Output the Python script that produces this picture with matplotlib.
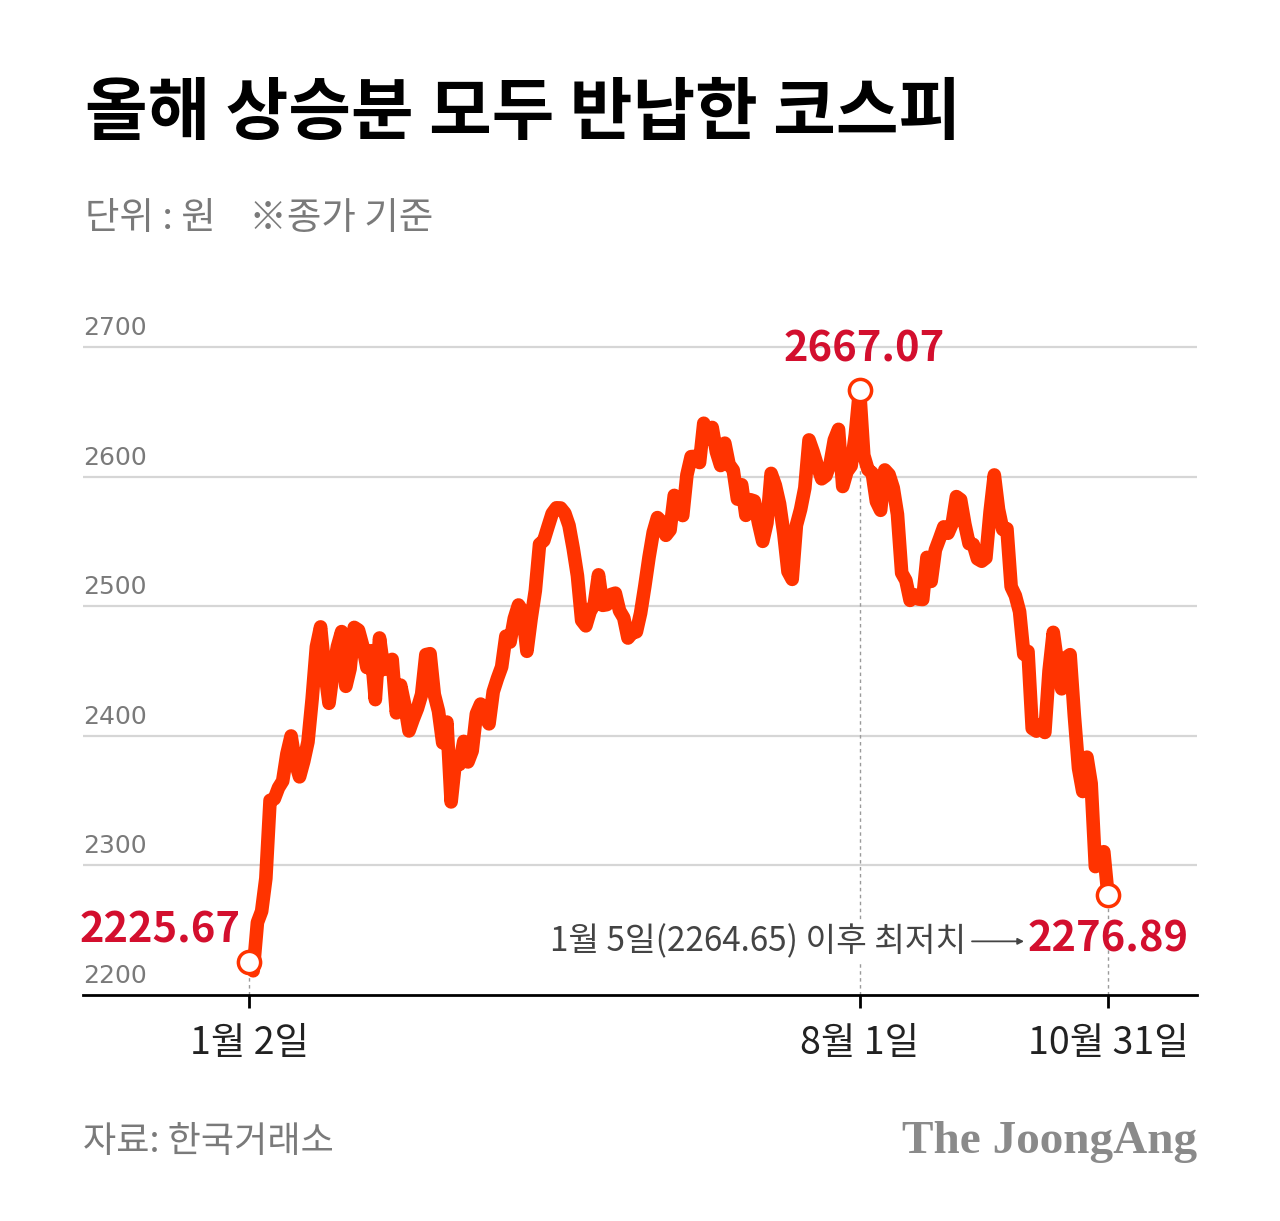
import numpy as np
import matplotlib
matplotlib.use("Agg")
import matplotlib.pyplot as plt

plt.rcParams['font.family'] = ['Noto Sans CJK KR', 'DejaVu Sans']

# KOSPI daily close, 2023-01-02 ~ 2023-10-31
jan = [2225.67, 2218.68, 2255.98, 2264.65, 2289.97, 2350.19, 2351.31, 2359.88, 2365.10, 2386.09,
       2399.86, 2379.39, 2368.32, 2380.34, 2395.26, 2428.57, 2468.65, 2484.02, 2450.47, 2425.08]
feb = [2449.80, 2468.88, 2480.40, 2438.19, 2451.71, 2483.64, 2481.52, 2469.53, 2452.70, 2465.64,
       2427.90, 2475.48, 2451.21, 2455.12, 2458.96, 2417.68, 2439.09, 2423.61, 2403.73, 2412.85]
mar = [2421.08, 2432.07, 2462.62, 2463.35, 2431.91, 2419.09, 2394.59, 2410.60, 2348.97, 2379.72,
       2377.91, 2395.69, 2379.83, 2388.35, 2416.96, 2424.48, 2414.96, 2409.22, 2434.08, 2444.25,
       2453.16, 2476.86]
apr = [2472.34, 2490.48, 2500.94, 2495.85, 2465.20, 2490.41, 2512.08, 2547.86, 2550.64, 2561.22,
       2571.49, 2575.91, 2575.78, 2571.80, 2562.29, 2544.40, 2523.50, 2489.02, 2484.83, 2495.81]
may = [2501.53, 2524.20, 2500.65, 2501.22, 2509.05, 2510.06, 2496.51, 2491.00, 2475.42, 2479.35,
       2480.24, 2494.66, 2515.40, 2537.79, 2557.08, 2568.37, 2565.07, 2554.69, 2558.81, 2585.52]
jun = [2577.12, 2569.93, 2601.36, 2615.41, 2615.60, 2610.85, 2641.16, 2629.35, 2637.95, 2619.08,
       2608.54, 2625.79, 2609.50, 2604.91, 2582.63, 2593.70, 2570.10, 2582.20, 2581.17, 2564.19,
       2550.04]
jul = [2564.28, 2602.47, 2593.31, 2579.00, 2556.29, 2526.71, 2520.70, 2562.49, 2574.72, 2591.19,
       2628.30, 2619.00, 2608.24, 2598.29, 2600.71, 2609.76, 2628.30, 2636.46, 2592.36, 2603.81,
       2608.32]
aug = [2632.58, 2667.07, 2616.47, 2605.39, 2602.80, 2580.71, 2573.98, 2605.12, 2601.56, 2591.26,
       2570.87, 2525.64, 2519.85, 2504.50, 2508.80, 2505.50, 2505.17, 2537.68, 2519.14, 2543.41,
       2552.16, 2561.22]
sep = [2556.27, 2563.71, 2584.55, 2582.18, 2563.34, 2548.26, 2547.68, 2536.58, 2534.70, 2537.22,
       2572.89, 2601.28, 2574.72, 2559.21, 2559.74, 2514.97, 2508.13, 2495.76, 2462.97]
octo = [2465.07, 2405.69, 2403.60, 2408.73, 2402.58, 2450.08, 2479.82, 2456.15, 2436.24, 2460.17,
        2462.60, 2415.80, 2375.00, 2357.02, 2383.51, 2363.17, 2299.08, 2302.81, 2310.55, 2276.89]

kospi = np.array(jan + feb + mar + apr + may + jun + jul + aug + sep + octo)
tick_labels = ["1월 2일", "8월 1일", "10월 31일"]
y_ticks = [2200, 2300, 2400, 2500, 2600, 2700]
note = "1월 5일(2264.65) 이후 최저치"

LINE = "#ff3300"
RED = "#d30f2e"
GRAY = "#7a7a7a"

x = np.arange(len(kospi))
i_first, i_peak, i_last = 0, int(np.argmax(kospi)), len(kospi) - 1
key = [i_first, i_peak, i_last]

fig = plt.figure(figsize=(12.8, 12.21), dpi=100)
ax = fig.add_axes([83 / 1280, 226 / 1221, 1114 / 1280, 695 / 1221])

# px per trading day, Jan 2 at px 249 -> axes from px 83 to 1197
ppd = (1108 - 249) / i_last
ax.set_xlim(-(249 - 83) / ppd, i_last + (1197 - 1108) / ppd)
ax.set_ylim(2200, 2200 + 695 / 1.296)

for v in y_ticks[1:]:
    ax.axhline(v, color="#d6d6d6", lw=1.6, zorder=1)
for v in y_ticks:
    ax.annotate(str(v), (0, v), xycoords=("axes fraction", "data"),
                xytext=(0, 7), textcoords="offset pixels", ha="left", va="bottom",
                fontsize=18, color=GRAY, family=["DejaVu Sans"])

# dashed drop lines
for i in key:
    ax.plot([i, i], [2200, kospi[i]], ls=(0, (2.5, 2.5)), color="#9a9a9a", lw=1.0, zorder=2)

ax.plot(x, kospi, color=LINE, lw=9.8, solid_joinstyle="round", solid_capstyle="round", zorder=3)
ax.plot(key, kospi[key], "o", ms=16, mfc="white", mec=LINE, mew=2.5, zorder=4)

for s in ["top", "right", "left"]:
    ax.spines[s].set_visible(False)
ax.spines["bottom"].set_linewidth(2)
ax.spines["bottom"].set_color("black")
ax.set_yticks([])
ax.set_xticks(key)
ax.set_xticklabels(tick_labels, fontsize=27, color="#222222")
ax.tick_params(axis="x", length=9, width=2, color="black", pad=12)

# value labels
ax.annotate(f"{kospi[i_peak]:.2f}", (i_peak, kospi[i_peak]), xytext=(5, 40),
            textcoords="offset pixels", ha="center", va="center",
            fontsize=30, fontweight="bold", color=RED, zorder=5)
ax.annotate(f"{kospi[i_first]:.2f}", (i_first, kospi[i_first]), xytext=(-8, 31),
            textcoords="offset pixels", ha="right", va="center",
            fontsize=30, fontweight="bold", color=RED, zorder=5)
ax.annotate(f"{kospi[i_last]:.2f}", (i_last, kospi[i_last]), xytext=(81, -44),
            textcoords="offset pixels", ha="right", va="center",
            fontsize=30, fontweight="bold", color=RED, zorder=5)
ax.annotate(note, (i_last, kospi[i_last]), xytext=(-142, -46),
            textcoords="offset pixels", ha="right", va="center",
            fontsize=24, color="#444444", zorder=5,
            bbox=dict(boxstyle="square,pad=0.1", fc="white", ec="none"))
px, py = ax.transData.transform((i_last, kospi[i_last]))
ax.annotate("", xy=(px - 84, py - 46), xycoords="figure pixels",
            xytext=(px - 136, py - 46), textcoords="figure pixels",
            arrowprops=dict(arrowstyle="-|>,head_length=0.35,head_width=0.18",
                            color="#444444", lw=1.3, shrinkA=0, shrinkB=0), zorder=5)

fig.text(85 / 1280, 1 - 115 / 1221, "올해 상승분 모두 반납한 코스피", fontsize=49,
         fontweight="heavy", color="black", va="center", ha="left")
fig.text(85 / 1280, 1 - 218 / 1221, "단위 : 원    ※종가 기준", fontsize=27,
         color=GRAY, va="center", ha="left")
fig.text(83 / 1280, 1 - 1142 / 1221, "자료: 한국거래소", fontsize=26,
         color=GRAY, va="center", ha="left")
fig.text(1197 / 1280, 1 - 1142 / 1221, "The JoongAng", fontsize=34, fontweight="bold",
         family=["Liberation Serif"], color="#8a8a8a", va="center", ha="right")

fig.savefig("out.png", dpi=100, facecolor="white")
